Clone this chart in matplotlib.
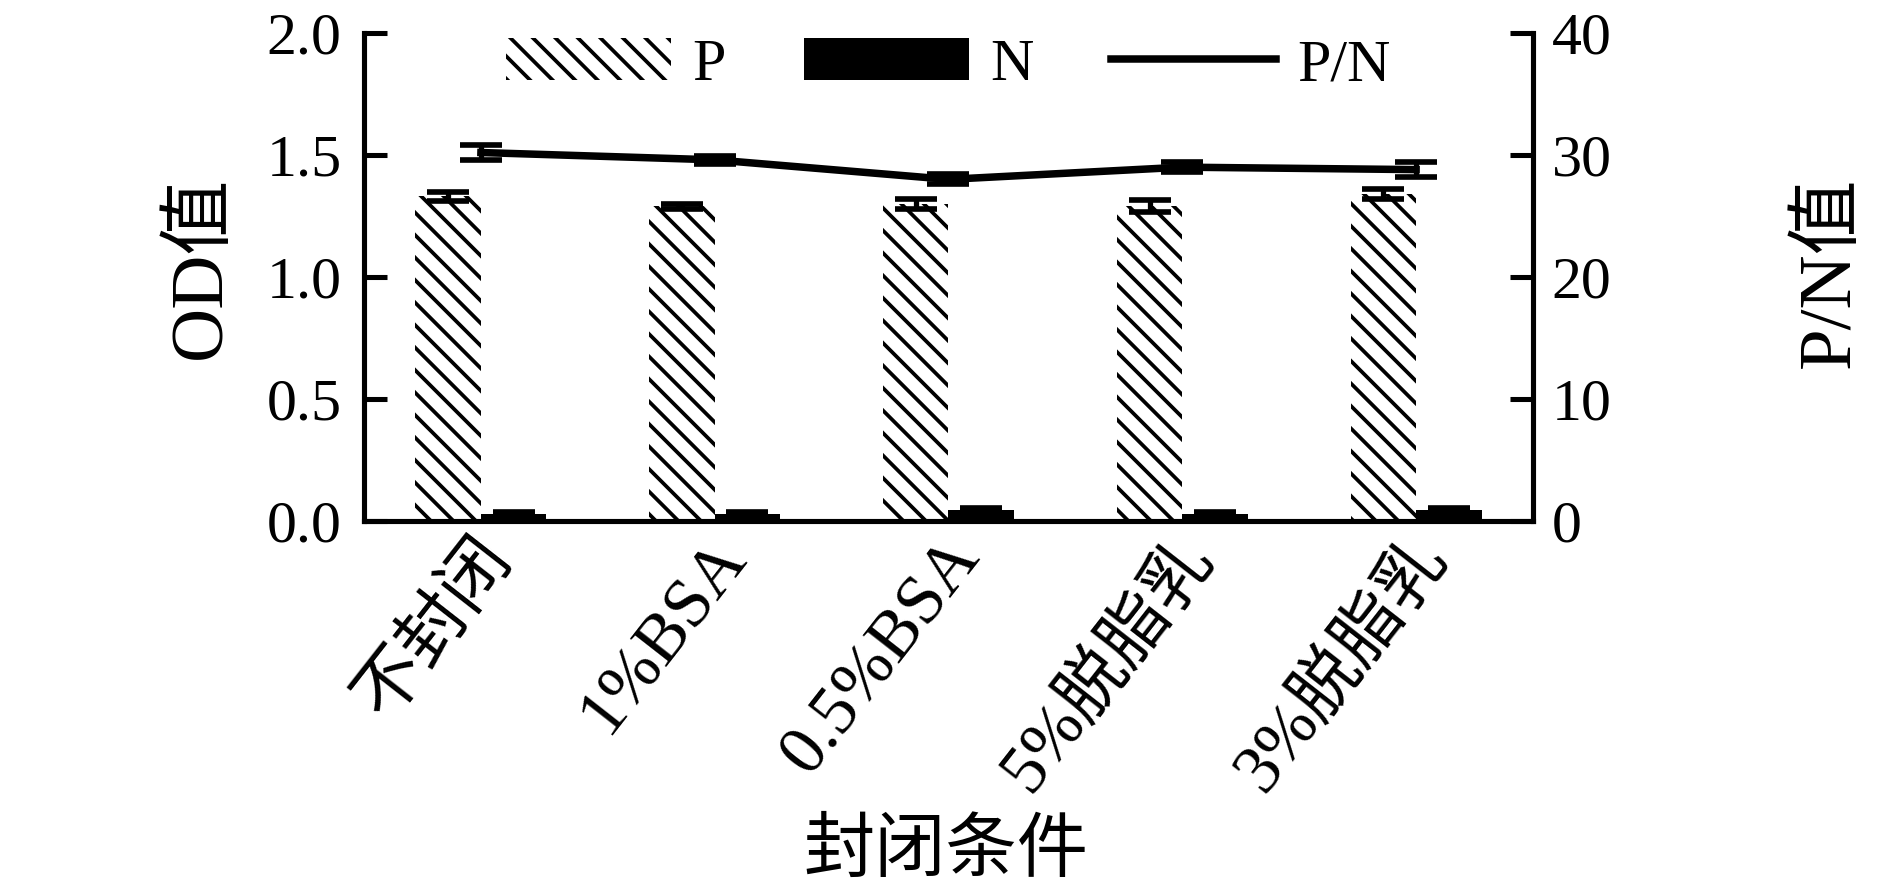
import matplotlib
matplotlib.use("Agg")
import matplotlib.pyplot as plt
import matplotlib.transforms as mtrans
import numpy as np
from matplotlib.patches import Patch
from matplotlib.lines import Line2D

plt.rcParams['font.family'] = ['Liberation Serif', 'Noto Sans CJK SC']
plt.rcParams['hatch.linewidth'] = 2.0
plt.rcParams['axes.unicode_minus'] = False

# ---- data ----
conditions = ["不封闭", "1%BSA", "0.5%BSA", "5%脱脂乳", "3%脱脂乳"]
p_od = [1.33, 1.29, 1.30, 1.29, 1.34]
p_err = [0.02, 0.01, 0.02, 0.025, 0.02]
n_od = [0.03, 0.03, 0.045, 0.03, 0.045]
n_err = [0.005, 0.005, 0.01, 0.005, 0.01]
pn_ratio = [30.2, 29.6, 28.0, 29.0, 28.8]
pn_err = [0.6, 0.3, 0.4, 0.4, 0.6]

x = np.arange(len(conditions))
w = 0.28

fig = plt.figure(figsize=(14.0, 886 / 135), dpi=135)
ax = fig.add_axes([0.1926, 0.412, 0.6185, 0.5508])
ax2 = ax.twinx()

# P bars (hatched) and N bars (solid) with error bars
ax.bar(x - w / 2, p_od, w, color="white", edgecolor="black", linewidth=0, hatch="\\\\")
ax.errorbar(x - w / 2, p_od, yerr=p_err, fmt="none", ecolor="black", elinewidth=2.8, capsize=11, capthick=3)
ax.bar(x + w / 2, n_od, w, color="black", linewidth=0)
ax.errorbar(x + w / 2, n_od, yerr=n_err, fmt="none", ecolor="black", elinewidth=2.8, capsize=11, capthick=3)

# P/N ratio on the right axis
ax2.errorbar(x, pn_ratio, yerr=pn_err, color="black", lw=4, elinewidth=2.8, capsize=11, capthick=3)

ax.set_xlim(-0.5, 4.5)
ax.set_ylim(0, 2.0)
ax2.set_ylim(0, 40)
ax.set_yticks([0, 0.5, 1.0, 1.5, 2.0])
ax.set_yticklabels(["0.0", "0.5", "1.0", "1.5", "2.0"])
ax2.set_yticks([0, 10, 20, 30, 40])

for a in (ax, ax2):
    a.spines["top"].set_visible(False)
    for s in a.spines.values():
        s.set_linewidth(2.7)
    a.tick_params(axis="y", direction="in", length=12.5, width=2.7, labelsize=32)
ax.tick_params(axis="y", pad=12)
ax2.tick_params(axis="y", pad=10)
ax.tick_params(axis="x", length=0, labelsize=37)

ax.set_xticks(x)
ax.set_xticklabels(conditions, rotation=52, ha="right", va="center", rotation_mode="anchor")
for lab in ax.get_xticklabels():
    lab.set_transform(lab.get_transform() + mtrans.ScaledTranslation(0.14, -0.14, fig.dpi_scale_trans))

ax.set_ylabel("OD值", fontsize=40)
ax.yaxis.set_label_coords(-0.110, 0.52)
ax2.set_ylabel("P/N值", fontsize=40)
ax2.yaxis.set_label_coords(1.225, 0.51)
ax.set_xlabel("封闭条件", fontsize=38)
ax.xaxis.set_label_coords(0.498, -0.613)

handles = [Patch(facecolor="white", edgecolor="black", linewidth=0, hatch="\\\\"),
           Patch(facecolor="black", linewidth=0),
           Line2D([0], [0], color="black", lw=4)]
ax2.legend(handles, ["P", "N", "P/N"], loc="upper center", bbox_to_anchor=(0.5, 1.10), ncol=3,
           frameon=False, fontsize=32, handlelength=2.75, handletextpad=0.35, columnspacing=1.3,
           handleheight=0.7)

fig.savefig("out.png", dpi=135)
